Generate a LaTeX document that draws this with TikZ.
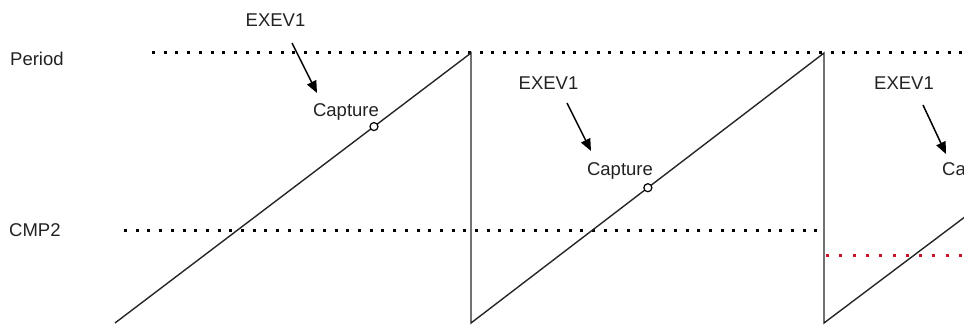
\documentclass[tikz,border=0pt]{standalone}
\usepackage{fontspec}
\setmainfont{Liberation Sans}
\usetikzlibrary{arrows.meta,calc}
\definecolor{txt}{RGB}{34,34,34}
\definecolor{cmpred}{RGB}{200,20,40}
\tikzset{
  lbl/.style={inner sep=0pt, anchor=base, font=\fontsize{18.5}{20}\selectfont, text=txt},
  lvl/.style={line width=3pt, dash pattern=on 3pt off 8.7pt},
  redlvl/.style={line width=3pt, dash pattern=on 3pt off 10.3pt, cmpred},
  ramp/.style={line width=1.4pt, line join=miter, black!85},
  evarrow/.style={line width=1.5pt, -{Triangle[length=12pt,width=10pt]}},
  capt/.style={circle, draw, line width=1.2pt, fill=white, minimum size=8pt, inner sep=0pt}
}
\begin{document}
\begin{tikzpicture}[x=1pt,y=-1pt]
\useasboundingbox (0,0) rectangle (964,329);
\clip (0,0) rectangle (964,329);

% level names
\node[lbl, anchor=base west] (period) at (10,66) {Period};
\node[lbl, anchor=base west] (cmp2) at (9,236) {CMP2};

% sawtooth corner points
\coordinate (b1) at (115,323);
\coordinate (t1) at (471,53);
\coordinate (b2) at (471,323);
\coordinate (t2) at (824,53);
\coordinate (b3) at (824,323);
\coordinate (e3) at (1000,190.5);

% level lines
\coordinate (p0) at (152,53);
\coordinate (p1) at (970,53);
\coordinate (c0) at (124,230);
\coordinate (c1) at (818,230);
\coordinate (r0) at (826,255);
\coordinate (r1) at (970,255);
\draw[lvl] (p0) -- (p1);
\draw[lvl] (c0) -- (c1);
\draw[redlvl] (r0) -- (r1);

% counter
\draw[ramp] (b1) -- (t1) -- (b2) -- (t2) -- (b3) -- (e3);

% capture events
\node[lbl] (ex1) at (275.5,27) {EXEV1};
\node[lbl] (ex2) at (548.5,89) {EXEV1};
\node[lbl] (ex3) at (904,89) {EXEV1};
\node[lbl] (cap1) at (346,116) {Capture};
\node[lbl] (cap2) at (620,175) {Capture};
\node[lbl, anchor=base west] (cap3) at (942,175) {Capture};

\coordinate (a1s) at (292,43);
\coordinate (a1e) at (317,93);
\coordinate (a2s) at (567,103);
\coordinate (a2e) at (591,151);
\coordinate (a3s) at (923,105);
\coordinate (a3e) at (946,154);
\draw[evarrow] (a1s) -- (a1e);
\draw[evarrow] (a2s) -- (a2e);
\draw[evarrow] (a3s) -- (a3e);

\node[capt] (m1) at ($(b1)!0.7275!(t1)$) {};
\node[capt] (m2) at ($(b2)!0.501!(t2)$) {};
\end{tikzpicture}
\end{document}
